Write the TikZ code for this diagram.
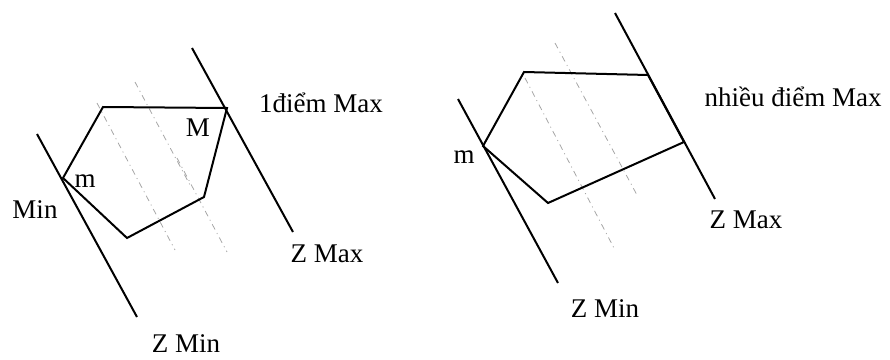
\documentclass[tikz,border=0pt]{standalone}
\usepackage{fontspec}
\setmainfont{Liberation Serif}
\begin{document}
\begin{tikzpicture}[x=1pt,y=-1pt,
  edge/.style={line width=2pt, line join=miter},
  level/.style={line width=2pt},
  guide/.style={gray!70, line width=0.8pt, dash pattern=on 6pt off 4pt on 1pt off 4pt},
  lbl/.style={inner sep=0pt, anchor=base, font=\fontsize{27}{30}\selectfont}]
\useasboundingbox (0,0) rectangle (890,359);
% ---------- left figure ----------
\coordinate (L1) at (103,107);
\coordinate (LM) at (227,108);
\coordinate (L3) at (204,197);
\coordinate (L4) at (127,238);
\coordinate (Lm) at (63,178);
\coordinate (LminA) at (37,134);
\coordinate (LminB) at (137,317);
\coordinate (LmaxA) at (192,48);
\coordinate (LmaxB) at (293,232);
\coordinate (LgA1) at (135,82);  \coordinate (LgA2) at (190,185);
\coordinate (LgB1) at (97,103);  \coordinate (LgB2) at (175,250);
\coordinate (LgC1) at (177,158); \coordinate (LgC2) at (227,252);
\draw[guide] (LgA1) -- (LgA2);
\draw[guide] (LgB1) -- (LgB2);
\draw[guide] (LgC1) -- (LgC2);
\draw[edge] (L1) -- (LM) -- (L3) -- (L4) -- (Lm) -- cycle;
\draw[level] (LminA) -- (LminB);
\draw[level] (LmaxA) -- (LmaxB);
\node[lbl] (lmax) at (321,112) {1điểm Max};
\node[lbl] (lM) at (198,136) {M};
\node[lbl] (lm) at (85,187) {m};
\node[lbl] (lmin) at (35,218) {Min};
\node[lbl] (lzmax) at (327,262) {Z Max};
\node[lbl] (lzmin) at (186,352) {Z Min};
% ---------- right figure ----------
\coordinate (R1) at (524,72);
\coordinate (R2) at (648,75);
\coordinate (R3) at (684,142);
\coordinate (R4) at (548,203);
\coordinate (Rm) at (483,146);
\coordinate (RminA) at (458,99);
\coordinate (RminB) at (558,283);
\coordinate (RmaxA) at (615,13);
\coordinate (RmaxB) at (715,199);
\coordinate (RgA1) at (555,43); \coordinate (RgA2) at (637,195);
\coordinate (RgB1) at (525,78); \coordinate (RgB2) at (615,250);
\draw[guide] (RgA1) -- (RgA2);
\draw[guide] (RgB1) -- (RgB2);
\draw[edge] (R1) -- (R2) -- (R3) -- (R4) -- (Rm) -- cycle;
\draw[level] (RminA) -- (RminB);
\draw[level] (RmaxA) -- (RmaxB);
\node[lbl] (rmax) at (793,106) {nhiều điểm Max};
\node[lbl] (rm) at (464,163) {m};
\node[lbl] (rzmax) at (746,228) {Z Max};
\node[lbl] (rzmin) at (605,317) {Z Min};
\end{tikzpicture}
\end{document}
